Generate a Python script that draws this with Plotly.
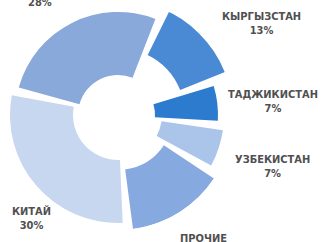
import plotly.graph_objects as go

# ---- data ----
labels = ["", "КЫРГЫЗСТАН", "ТАДЖИКИСТАН", "УЗБЕКИСТАН", "ПРОЧИЕ", "КИТАЙ"]
shares = [28, 13, 7, 7, 15, 30]

# ---- style ----
colors = ["#8aa9db", "#4a89d3", "#2c7bcf", "#abc4ea", "#86aadf", "#c6d7ef"]
inner = [40, 67, 37, 44, 55, 45]
outer = [103, 130, 100, 106, 115, 108]
start_deg = 283
gap_deg = 5

W, H = 322, 242
cx, cy, R = 118, 115, 115

centers, widths = [], []
acc = start_deg
for s in shares:
    span = s * 3.6
    centers.append((acc + span / 2) % 360)
    widths.append(span - gap_deg)
    acc += span

fig = go.Figure()
fig.add_trace(go.Barpolar(
    theta=centers, width=widths, base=inner,
    r=[o - i for o, i in zip(outer, inner)],
    marker=dict(color=colors, line=dict(width=0)),
    hoverinfo="skip", showlegend=False,
))
# invisible helper so bars are not clipped at the polar frame
fig.add_trace(go.Scatterpolar(r=[0], theta=[0], mode="markers", cliponaxis=False,
                              marker=dict(size=1, opacity=0), hoverinfo="skip",
                              showlegend=False))

fig.update_layout(
    width=W, height=H, margin=dict(l=0, r=0, t=0, b=0),
    paper_bgcolor="white", plot_bgcolor="white",
    polar=dict(
        domain=dict(x=[(cx - R) / W, (cx + R) / W], y=[1 - (cy + R) / H, 1 - (cy - R) / H]),
        bgcolor="rgba(0,0,0,0)", hole=0,
        radialaxis=dict(range=[0, R], visible=False),
        angularaxis=dict(visible=False, rotation=90, direction="clockwise"),
    ),
)

font_fam = "Liberation Sans Narrow, DejaVu Sans Condensed, sans-serif"
label_pos = [(40, 3), (261, 23), (273, 101), (272, 166), (203, 245), (32, 218)]
for lab, s, (px, py) in zip(labels, shares, label_pos):
    txt = (f"<b>{lab}</b><br>" if lab else "") + f"<b>{s}%</b>"
    fig.add_annotation(x=px / W, y=1 - py / H, xref="paper", yref="paper",
                       xanchor="center", yanchor="middle",
                       text=txt, showarrow=False, align="center",
                       font=dict(family=font_fam, size=11, color="#505050"))

fig.write_html("out.html")
